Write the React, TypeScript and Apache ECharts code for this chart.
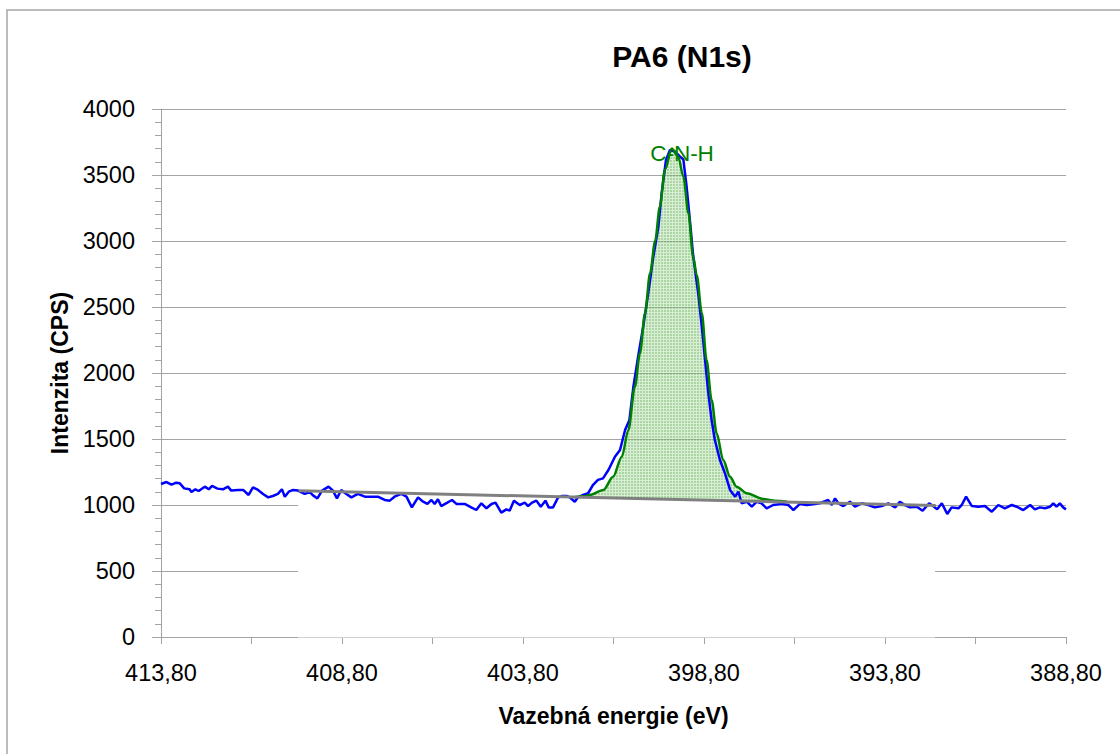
import React, { useEffect, useRef } from 'react';
import * as echarts from 'echarts';

// Energy axis runs from 413.80 eV (left) to 388.80 eV (right)
const E_LEFT = 413.8;
const E_RIGHT = 388.8;

// Measured spectrum (blue)
const blueEnergy = [
  413.8, 413.65, 413.51, 413.38, 413.28, 413.16, 413.01, 412.96, 412.85, 412.76,
  412.59, 412.48, 412.39, 412.24, 412.09, 411.95, 411.86, 411.67, 411.53, 411.38,
  411.26, 411.12, 410.98, 410.84, 410.71, 410.57, 410.46, 410.38, 410.27, 410.15,
  410.02, 409.83, 409.69, 409.6, 409.48, 409.35, 409.17, 409.05, 408.94, 408.82,
  408.68, 408.54, 408.36, 408.17, 407.99, 407.81, 407.62, 407.48, 407.35, 407.16,
  407.02, 406.87, 406.7, 406.56, 406.44, 406.33, 406.24, 406.15, 406.06, 405.89,
  405.76, 405.64, 405.41, 405.23, 405.09, 404.95, 404.81, 404.67, 404.56, 404.4,
  404.26, 404.17, 404.05, 403.89, 403.75, 403.66, 403.55, 403.43, 403.31, 403.18,
  403.09, 402.97, 402.83, 402.72, 402.58, 402.51, 402.37, 402.28, 402.14, 402.0,
  401.87, 401.73, 401.59, 401.44, 401.26, 401.12, 400.98, 400.86, 400.75, 400.62,
  400.48, 400.34, 400.2, 400.06, 399.97, 399.85, 399.74, 399.6, 399.46, 399.37,
  399.28, 399.19, 399.1, 398.96, 398.86, 398.77, 398.68, 398.59, 398.5, 398.36,
  398.22, 398.08, 397.94, 397.85, 397.76, 397.62, 397.48, 397.34, 397.21, 397.07,
  396.89, 396.65, 396.47, 396.33, 396.15, 395.96, 395.78, 395.6, 395.37, 395.27,
  395.18, 395.09, 394.95, 394.77, 394.63, 394.44, 394.26, 394.08, 393.89, 393.71,
  393.52, 393.39, 393.25, 393.11, 392.92, 392.76, 392.58, 392.47, 392.36, 392.23,
  392.08, 391.96, 391.77, 391.68, 391.56, 391.4, 391.22, 391.04, 390.85, 390.67,
  390.49, 390.3, 390.16, 389.98, 389.79, 389.66, 389.52, 389.38, 389.24, 389.15,
  389.06, 388.97, 388.88, 388.8,
];
const blueCounts = [
  1159, 1174, 1154, 1169, 1164, 1126, 1119, 1098, 1119, 1106,
  1139, 1119, 1144, 1124, 1119, 1139, 1109, 1114, 1114, 1076,
  1134, 1114, 1084, 1058, 1068, 1084, 1119, 1063, 1101, 1114,
  1109, 1084, 1098, 1073, 1050, 1109, 1139, 1109, 1050, 1114,
  1084, 1058, 1084, 1063, 1063, 1063, 1038, 1033, 1063, 1084,
  1063, 982, 1058, 1025, 1008, 1038, 1008, 1043, 992, 1018,
  1038, 1008, 1008, 982, 962, 1013, 975, 1008, 1018, 942,
  967, 957, 1033, 1000, 1018, 992, 1018, 1033, 987, 1033,
  982, 982, 1058, 1068, 1068, 1058, 1025, 1058, 1076, 1089,
  1150, 1190, 1202, 1265, 1366, 1417, 1568, 1644, 1896, 2124,
  2351, 2604, 2880, 3108, 3361, 3614, 3689, 3677, 3639, 3617,
  3411, 3159, 2890, 2604, 2351, 2098, 1846, 1644, 1492, 1341,
  1240, 1114, 1063, 1101, 1013, 1025, 987, 1025, 1013, 975,
  1000, 1008, 1000, 962, 1008, 1000, 1005, 1013, 1038, 1000,
  1050, 1013, 992, 1025, 987, 1013, 1000, 982, 992, 1013,
  982, 1025, 1000, 982, 987, 957, 1013, 992, 967, 1013,
  932, 982, 975, 1000, 1063, 992, 987, 992, 949, 1000,
  975, 1000, 987, 962, 1000, 967, 982, 975, 987, 1013,
  987, 1013, 982, 967,
];

// Fitted component C-N-H (green)
const fitEnergy = [
  402.4, 402.1, 401.95, 401.58, 401.31, 401.07, 400.89, 400.71, 400.57, 400.43,
  400.29, 400.15, 400.02, 399.88, 399.69, 399.51, 399.37, 399.23, 399.1, 399.0,
  398.86, 398.73, 398.59, 398.45, 398.27, 398.08, 397.9, 397.62, 397.16, 396.84,
  396.5,
];
const fitCounts = [
  1059, 1066, 1076, 1114, 1214, 1366, 1568, 1896, 2149, 2452,
  2755, 3000, 3260, 3540, 3700, 3640, 3487, 3210, 2880, 2740,
  2452, 2098, 1795, 1543, 1341, 1214, 1139, 1089, 1045, 1032,
  1024,
];

// Linear background (grey)
const baseEnergy = [410.0, 392.4];
const baseCounts = [1108, 996];

const yTickValues = [0, 500, 1000, 1500, 2000, 2500, 3000, 3500, 4000];

const FONT = '"Liberation Sans", Arial, sans-serif';
const GRID_COLOR = '#a3a3a3';

export default function App() {
  const ref = useRef<HTMLDivElement>(null);

  useEffect(() => {
    document.body.style.margin = '0';
    const chart = echarts.init(ref.current as HTMLDivElement, null, { renderer: 'svg' });

    const toX = (e: number) => +(E_LEFT - e).toFixed(3);
    const pairs = (es: number[], cs: number[]) => es.map((e, i) => [toX(e), cs[i]]);

    // green checker pattern for the fitted-peak area
    const cv = document.createElement('canvas');
    cv.width = 3;
    cv.height = 3;
    const ctx = cv.getContext('2d') as CanvasRenderingContext2D;
    ctx.fillStyle = 'rgba(100,180,90,0.55)';
    ctx.fillRect(0, 0, 3, 3);
    ctx.clearRect(0, 0, 3, 1);
    ctx.clearRect(0, 0, 1, 3);
    ctx.fillStyle = 'rgba(170,215,160,0.45)';
    ctx.fillRect(0, 0, 3, 1);
    ctx.fillRect(0, 1, 1, 2);
    const pattern: any = { image: cv, repeat: 'repeat', imageWidth: 3, imageHeight: 3 };

    const span = E_LEFT - E_RIGHT;

    chart.setOption({
      animation: false,
      grid: { left: 161, right: 54, top: 109, bottom: 117 },
      xAxis: {
        type: 'value',
        min: 0,
        max: span,
        interval: 2.5,
        name: 'Vazebná energie (eV)',
        nameLocation: 'middle',
        nameGap: 67,
        nameTextStyle: { fontFamily: FONT, fontSize: 23, fontWeight: 'bold', color: '#000' },
        axisLine: { show: true, lineStyle: { color: GRID_COLOR, width: 1 } },
        axisTick: { show: true, length: 7, lineStyle: { color: GRID_COLOR } },
        splitLine: { show: false },
        axisLabel: {
          margin: 24,
          fontFamily: FONT,
          fontSize: 23.5,
          color: '#000',
          formatter: (v: number) =>
            Math.round(v / 2.5) % 2 === 0 ? (E_LEFT - v).toFixed(2).replace('.', ',') : '',
        },
      },
      yAxis: {
        type: 'value',
        min: yTickValues[0],
        max: yTickValues[yTickValues.length - 1],
        interval: 500,
        name: 'Intenzita (CPS)',
        nameLocation: 'middle',
        nameGap: 83,
        nameTextStyle: { fontFamily: FONT, fontSize: 23, fontWeight: 'bold', color: '#000' },
        axisLine: { show: true, lineStyle: { color: GRID_COLOR, width: 1 } },
        axisTick: { show: true, length: 9, lineStyle: { color: GRID_COLOR } },
        minorTick: { show: true, splitNumber: 5, length: 6, lineStyle: { color: GRID_COLOR } },
        splitLine: { show: true, lineStyle: { color: GRID_COLOR, width: 1 } },
        axisLabel: {
          margin: 26,
          fontFamily: FONT,
          fontSize: 23.5,
          color: '#000',
          formatter: (v: number) => String(v),
        },
      },
      graphic: [
        {
          type: 'rect',
          silent: true,
          z: 0,
          shape: { x: 7, y: 10, width: 1300, height: 900 },
          style: { fill: 'none', stroke: '#a6a6a6', lineWidth: 1.5 },
        },
        {
          type: 'rect',
          silent: true,
          z: 1,
          shape: { x: 298, y: 470, width: 637, height: 167.5 },
          style: { fill: '#ffffff' },
        },
        {
          type: 'text',
          silent: true,
          z: 10,
          x: 682,
          y: 56,
          style: {
            text: 'PA6 (N1s)',
            fontFamily: FONT,
            fontSize: 30,
            fontWeight: 'bold',
            fill: '#000',
            align: 'center',
            verticalAlign: 'middle',
          },
        },
        {
          type: 'text',
          silent: true,
          z: 10,
          x: 682,
          y: 153,
          style: {
            text: 'C-N-H',
            fontFamily: FONT,
            fontSize: 22.5,
            fill: '#008000',
            align: 'center',
            verticalAlign: 'middle',
          },
        },
      ],
      series: [
        {
          type: 'custom',
          silent: true,
          z: 2,
          data: [[0, 0]],
          renderItem: (_p: any, api: any) => {
            const pts = fitEnergy.map((e, i) => api.coord([toX(e), fitCounts[i]]));
            return { type: 'polygon', shape: { points: pts }, style: { fill: pattern } };
          },
        },
        {
          type: 'line',
          name: 'spectrum',
          z: 3,
          silent: true,
          showSymbol: false,
          data: pairs(blueEnergy, blueCounts),
          lineStyle: { color: '#0000ff', width: 2.5 },
        },
        {
          type: 'line',
          name: 'C-N-H',
          z: 4,
          silent: true,
          showSymbol: false,
          smooth: 0.3,
          smoothMonotone: 'x',
          data: pairs(fitEnergy, fitCounts),
          lineStyle: { color: '#008000', width: 2.5 },
        },
        {
          type: 'line',
          name: 'background',
          z: 5,
          silent: true,
          showSymbol: false,
          data: pairs(baseEnergy, baseCounts),
          lineStyle: { color: '#808080', width: 3 },
        },
      ],
    });

    return () => chart.dispose();
  }, []);

  return <div ref={ref} style={{ width: 1120, height: 754 }} />;
}
